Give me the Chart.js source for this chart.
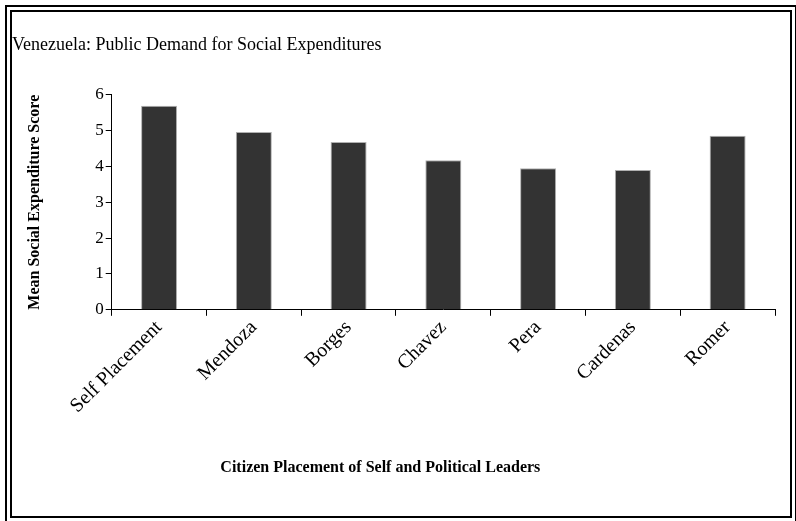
<!DOCTYPE html>
<html>
<head>
<meta charset="utf-8">
<script src="https://cdn.jsdelivr.net/npm/chart.js@4"></script>
<style>
  html, body { margin: 0; padding: 0; background: #fff; }
  #frame {
    position: absolute; left: 5px; top: 5px; width: 778px; height: 504px;
    border: 7px double #000;
  }
  #wrap { position: absolute; left: 0; top: 0; width: 796px; height: 521px; }
</style>
</head>
<body>
<div id="frame"></div>
<div id="wrap"><canvas id="chart"></canvas></div>
<script>
const categories = ['Self Placement', 'Mendoza', 'Borges', 'Chavez', 'Pera', 'Cardenas', 'Romer'];
const scores = [5.69, 4.96, 4.68, 4.17, 3.95, 3.90, 4.85];
const yTicks = [0, 1, 2, 3, 4, 5, 6];

const FONT = "'Liberation Serif', 'Times New Roman', serif";
const X_TITLE = 'Citizen Placement of Self and Political Leaders';

// x title sits left of the plot centre in the original, so draw it by hand
const xTitlePlugin = {
  id: 'xTitle',
  afterDraw(chart) {
    const { ctx, chartArea } = chart;
    ctx.save();
    ctx.font = 'bold 16px ' + FONT;
    ctx.fillStyle = '#000';
    ctx.textAlign = 'center';
    ctx.textBaseline = 'middle';
    ctx.fillText(X_TITLE, chartArea.left + chartArea.width * 0.405, 468);
    ctx.restore();
  }
};

new Chart(document.getElementById('chart'), {
  type: 'bar',
  data: {
    labels: categories,
    datasets: [{
      data: scores,
      backgroundColor: '#333333',
      borderColor: '#b0b0b0',
      borderWidth: 1,
      barPercentage: 0.38,
      categoryPercentage: 1
    }]
  },
  options: {
    responsive: true,
    maintainAspectRatio: false,
    animation: false,
    layout: { padding: { left: 12, right: 21, top: 14, bottom: 103 } },
    plugins: {
      legend: { display: false },
      tooltip: { enabled: false },
      title: {
        display: true,
        text: 'Venezuela: Public Demand for Social Expenditures',
        align: 'start',
        color: '#000',
        font: { family: FONT, size: 18, weight: 'normal' },
        padding: { top: 20, bottom: 39 }
      }
    },
    scales: {
      y: {
        min: 0,
        max: 6,
        afterBuildTicks: axis => { axis.ticks = yTicks.map(v => ({ value: v })); },
        border: { color: '#000', width: 1 },
        grid: { drawOnChartArea: false, color: '#000', tickLength: 6 },
        ticks: { color: '#000', font: { family: FONT, size: 17 }, padding: 2 },
        title: {
          display: true,
          text: 'Mean Social Expenditure Score',
          color: '#000',
          font: { family: FONT, size: 16, weight: 'bold' },
          padding: { top: 13, bottom: 49 }
        }
      },
      x: {
        border: { color: '#000', width: 1 },
        grid: { drawOnChartArea: false, color: '#000', tickLength: 6 },
        ticks: {
          color: '#000',
          font: { family: FONT, size: 20 },
          minRotation: 45,
          maxRotation: 45,
          padding: 0
        }
      }
    }
  },
  plugins: [xTitlePlugin]
});
</script>
</body>
</html>
